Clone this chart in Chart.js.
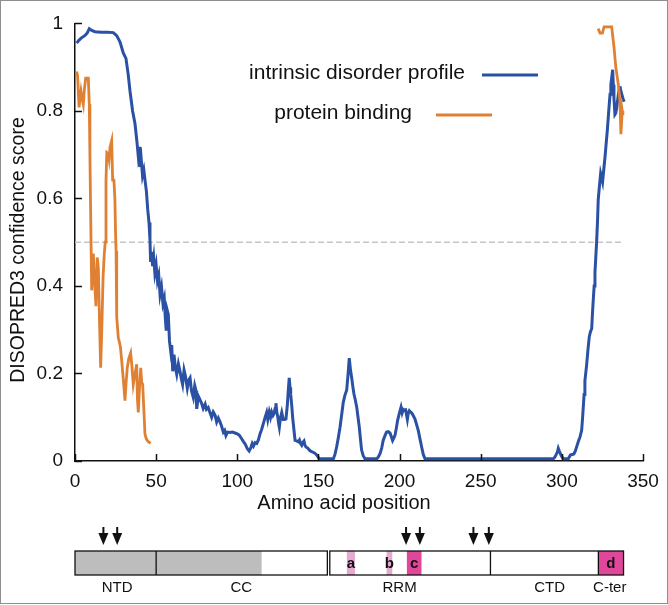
<!doctype html>
<html>
<head>
<title>DISOPRED3 profile</title>
<script src="https://cdn.jsdelivr.net/npm/chart.js"></script>
<style>
    body {
        margin: 0;
        background: #fff;
    }
    canvas {
        display: block;
    }
</style>
</head>
<body>
<canvas id="chart" width="668" height="605"></canvas>
<script>
// disorder profile (residue, score)
const disorderPos = [1, 2.5, 4, 6, 7.5, 8.8, 10.3, 12.3, 16, 20, 23.6, 25.7, 27.7, 29.8, 31.4, 32.8, 33.9, 35.5, 37, 38.2,
    38.9, 39.5, 40, 40.8, 41.6, 42.4, 43.2, 44, 44.8, 45.6, 46.2, 46.6, 47.2, 47.8, 48.5, 49.2, 50, 50.8, 51.6, 52.4,
    53.3, 54.2, 55, 55.6, 56.2, 56.8, 57.5, 58.2, 59, 59.6, 60.2, 61, 61.8, 62.7, 63.7, 64.7, 65.5, 66.3, 67.2, 68,
    69.2, 70.1, 70.9, 71.8, 72.9, 73.8, 74.6, 75, 76, 77, 78, 79, 80.2, 81, 82.1, 83.2, 84.2, 85.2, 86.3, 87.3,
    88.3, 89.3, 90.3, 91.4, 92.2, 93, 94, 95.5, 97, 98.6, 100, 101.2, 102.5, 103.7, 105, 106.2, 107.3, 108.3, 109.2, 110,
    111, 112, 113, 114, 115, 116, 117, 118.1, 118.8, 119.7, 120.5, 121.2, 122, 122.6, 123.3, 123.8, 124.4, 124.9, 125.5, 125.9,
    126.6, 127.4, 128.3, 129.2, 130, 130.8, 131.5, 132, 132.5, 132.9, 133.6, 134.1, 135, 135.6, 136.6, 137.6, 138.3, 139, 139.7, 140.4,
    141.1, 141.7, 142.3, 143.3, 144.4, 145.5, 146.7, 147.8, 148.9, 150, 150.5, 155, 159.2, 160.2, 161.2, 162.2, 163.3, 164.3, 165.3, 166.3,
    167.4, 168.2, 169, 169.7, 170.5, 171.2, 171.9, 172.7, 173.6, 174.4, 175.2, 175.9, 176.6, 177.6, 178.7, 186, 187, 188, 189, 189.9,
    191, 192, 193, 194.1, 195, 195.7, 196.5, 197.2, 198, 198.8, 199.8, 200.9, 201.6, 202.3, 203, 203.7, 204.3, 204.8, 205.4, 206,
    206.7, 207.4, 208.4, 209.5, 210.5, 211.5, 212.6, 213.6, 214.6, 215.7, 294.7, 295.5, 296.4, 297.2, 297.8, 298.5, 299.2, 300, 300.9, 304,
    304.7, 305.4, 306.4, 307.4, 308.2, 309.1, 310.2, 311.2, 312.2, 312.7, 313.2, 313.7, 314.2, 315.3, 316.1, 316.9, 317.6, 318.4, 318.9, 319.4,
    319.9, 320.4, 320.9, 321.4, 322, 322.4, 323.2, 323.9, 324.5, 325.1, 325.8, 326.6, 327.3, 328, 328.6, 329.2, 329.7, 330.2, 330.8, 331.3,
    331.7, 332.1, 332.7, 333.2, 333.8, 334.3, 334.8, 335.3, 335.8, 336.4, 337, 337.7, 338.4];
const disorderScore = [0.955, 0.962, 0.967, 0.972, 0.978, 0.988, 0.984, 0.981, 0.98, 0.98, 0.979, 0.972, 0.958, 0.932, 0.92, 0.883, 0.845, 0.8, 0.77, 0.728,
    0.7, 0.718, 0.672, 0.69, 0.652, 0.665, 0.64, 0.616, 0.575, 0.545, 0.505, 0.455, 0.478, 0.445, 0.465, 0.43, 0.448, 0.412, 0.425, 0.38,
    0.398, 0.36, 0.372, 0.33, 0.298, 0.345, 0.335, 0.275, 0.25, 0.265, 0.205, 0.243, 0.215, 0.198, 0.222, 0.205, 0.188, 0.175, 0.208, 0.195,
    0.166, 0.185, 0.19, 0.16, 0.145, 0.172, 0.16, 0.119, 0.148, 0.14, 0.132, 0.12, 0.13, 0.118, 0.122, 0.11, 0.1, 0.112, 0.105, 0.089,
    0.098, 0.09, 0.08, 0.066, 0.07, 0.058, 0.066, 0.065, 0.066, 0.064, 0.062, 0.059, 0.052, 0.045, 0.038, 0.028, 0.023, 0.03, 0.04, 0.034,
    0.042, 0.04, 0.048, 0.062, 0.072, 0.085, 0.098, 0.111, 0.095, 0.112, 0.1, 0.112, 0.104, 0.108, 0.12, 0.132, 0.11, 0.102, 0.085, 0.077,
    0.098, 0.111, 0.095, 0.095, 0.096, 0.126, 0.165, 0.19, 0.168, 0.153, 0.125, 0.1, 0.068, 0.047, 0.046, 0.044, 0.048, 0.04, 0.036, 0.043,
    0.046, 0.036, 0.032, 0.03, 0.025, 0.022, 0.02, 0.018, 0.014, 0.008, 0.005, 0.005, 0.005, 0.015, 0.032, 0.052, 0.077, 0.105, 0.134, 0.15,
    0.162, 0.195, 0.235, 0.21, 0.19, 0.17, 0.153, 0.14, 0.123, 0.1, 0.077, 0.05, 0.025, 0.012, 0.005, 0.005, 0.01, 0.017, 0.03, 0.047,
    0.058, 0.066, 0.067, 0.064, 0.055, 0.047, 0.053, 0.059, 0.075, 0.093, 0.108, 0.123, 0.11, 0.118, 0.116, 0.117, 0.105, 0.095, 0.11, 0.115,
    0.112, 0.11, 0.104, 0.096, 0.083, 0.07, 0.05, 0.032, 0.015, 0.005, 0.005, 0.008, 0.014, 0.02, 0.029, 0.022, 0.016, 0.01, 0.005, 0.005,
    0.01, 0.014, 0.015, 0.016, 0.022, 0.032, 0.045, 0.055, 0.07, 0.095, 0.123, 0.152, 0.183, 0.221, 0.255, 0.284, 0.295, 0.303, 0.34, 0.371,
    0.4, 0.431, 0.465, 0.499, 0.55, 0.597, 0.63, 0.657, 0.648, 0.638, 0.665, 0.695, 0.725, 0.755, 0.785, 0.815, 0.838, 0.86, 0.878, 0.894,
    0.86, 0.83, 0.792, 0.795, 0.807, 0.822, 0.837, 0.848, 0.856, 0.845, 0.837, 0.828, 0.821];

// protein binding (residue, score)
const bindingPos = [1, 1.6, 2.5, 3.2, 3.7, 4.4, 5.1, 5.8, 6.6, 7.4, 8.2, 8.8, 9.2, 9.6, 10, 10.3, 10.8, 11.3, 12.1, 12.9,
    13.7, 14.4, 15.1, 15.8, 16.5, 17.3, 18, 18.6, 19.1, 19.6, 20.5, 21, 21.6, 22.6, 23.2, 24, 24.6, 25, 25.3, 25.7,
    26.7, 27.3, 28, 28.8, 29.8, 30.8, 31.5, 32.2, 33.2, 34.3, 35.1, 35.9, 37, 38, 38.5, 39, 39.8, 40.5, 41.1, 41.7,
    42.4, 43.1, 43.8, 44.5, 45.5, 46.6,
    null,
    322.4, 323.5, 325, 326, 328, 330.7, 332.1, 333.3, 334.8, 335.8, 336.4, 337.2, 337.6];
const bindingScore = [0.89, 0.88, 0.808, 0.83, 0.845, 0.828, 0.815, 0.85, 0.875, 0.875, 0.875, 0.815, 0.7, 0.58, 0.47, 0.39, 0.44, 0.474, 0.41, 0.354,
    0.465, 0.44, 0.32, 0.213, 0.3, 0.42, 0.47, 0.5, 0.64, 0.705, 0.702, 0.69, 0.717, 0.732, 0.642, 0.642, 0.597, 0.52, 0.48, 0.33,
    0.281, 0.273, 0.26, 0.228, 0.185, 0.138, 0.18, 0.213, 0.235, 0.247, 0.215, 0.175, 0.2, 0.221, 0.14, 0.111, 0.17, 0.213, 0.18, 0.175,
    0.12, 0.062, 0.052, 0.047, 0.043, 0.04,
    null,
    0.988, 0.978, 0.978, 0.992, 0.992, 0.992, 0.947, 0.898, 0.86, 0.822, 0.747, 0.8, 0.79];

const cutoffPos = [0, 338];
const cutoffScore = [0.5, 0.5];

const xTicks = [0, 50, 100, 150, 200, 250, 300, 350];
const yTicks = [0, 0.2, 0.4, 0.6, 0.8, 1];

// domain map below the plot
const boxStart = [0, 157];
const boxEnd = [155.5, 338];
const shadeStart = [0];
const shadeEnd = [115];
const dividers = [50, 256];
const motifNames = ['a', 'b', 'c', 'd'];
const motifStart = [167.5, 192, 204.5, 322.5];
const motifEnd = [172.5, 195.5, 213.5, 338];
const motifStrong = [false, false, true, true];
const arrowPos = [17.5, 26, 204, 212.5, 245.5, 255];
const domainNames = ['NTD', 'CC', 'RRM', 'CTD', 'C-ter'];
const domainMid = [26, 102.5, 200, 292.5, 329.5];

const FONT = '"Liberation Sans", Arial, sans-serif';
const BLUE = '#2a51a3';
const ORANGE = '#e08033';

function pts(xs, ys) {
    return xs.map((x, i) => ({ x: x, y: ys[i] }));
}

const extras = {
    id: 'extras',
    afterDraw(chart) {
        const ctx = chart.ctx;
        const xs = chart.scales.x, ys = chart.scales.y;
        const a = chart.chartArea;
        ctx.save();

        // inward ticks
        ctx.strokeStyle = '#111';
        ctx.lineWidth = 1.5;
        ctx.beginPath();
        xTicks.forEach(v => {
            const px = Math.round(xs.getPixelForValue(v)) + 0.5;
            ctx.moveTo(px, a.bottom);
            ctx.lineTo(px, a.bottom - 7);
        });
        yTicks.forEach(v => {
            const py = Math.round(ys.getPixelForValue(v)) + 0.5;
            ctx.moveTo(a.left, py);
            ctx.lineTo(a.left + 7, py);
        });
        ctx.stroke();

        // axis titles
        ctx.fillStyle = '#111';
        ctx.font = '20px ' + FONT;
        ctx.textAlign = 'center';
        ctx.textBaseline = 'middle';
        ctx.fillText('Amino acid position', 344, 503);
        ctx.save();
        ctx.translate(19, 250);
        ctx.rotate(-Math.PI / 2);
        ctx.font = '19.5px ' + FONT;
        ctx.fillText('DISOPRED3 confidence score', 0, 0);
        ctx.restore();

        // legend
        ctx.font = '21px ' + FONT;
        ctx.textAlign = 'right';
        ctx.fillText('intrinsic disorder profile', 465, 73);
        ctx.fillText('protein binding', 412, 113);
        ctx.lineWidth = 3;
        ctx.strokeStyle = BLUE;
        ctx.beginPath();
        ctx.moveTo(482, 75);
        ctx.lineTo(538, 75);
        ctx.stroke();
        ctx.strokeStyle = ORANGE;
        ctx.beginPath();
        ctx.moveTo(436, 115);
        ctx.lineTo(492, 115);
        ctx.stroke();

        // domain map
        const top = 551, h = 24;
        const X = v => xs.getPixelForValue(v);
        ctx.fillStyle = '#bdbdbd';
        shadeStart.forEach((s, i) => ctx.fillRect(X(s), top, X(shadeEnd[i]) - X(s), h));
        motifNames.forEach((m, i) => {
            ctx.fillStyle = motifStrong[i] ? '#e0469a' : '#e6a9cf';
            ctx.fillRect(X(motifStart[i]), top, X(motifEnd[i]) - X(motifStart[i]), h);
        });
        ctx.strokeStyle = '#111';
        ctx.lineWidth = 1.3;
        boxStart.forEach((s, i) => ctx.strokeRect(X(s), top, X(boxEnd[i]) - X(s), h));
        ctx.beginPath();
        dividers.concat([motifStart[3]]).forEach(v => {
            ctx.moveTo(X(v), top);
            ctx.lineTo(X(v), top + h);
        });
        ctx.stroke();
        ctx.fillStyle = '#111';
        ctx.font = 'bold 15px ' + FONT;
        ctx.textAlign = 'center';
        motifNames.forEach((m, i) => {
            ctx.fillText(m, (X(motifStart[i]) + X(motifEnd[i])) / 2, top + h / 2 + 1);
        });
        ctx.font = '15px ' + FONT;
        domainNames.forEach((d, i) => ctx.fillText(d, X(domainMid[i]), 588));

        // arrows
        arrowPos.forEach(v => {
            const px = X(v);
            ctx.fillRect(px - 1, 527, 2, 7);
            ctx.beginPath();
            ctx.moveTo(px - 5, 533);
            ctx.lineTo(px + 5, 533);
            ctx.lineTo(px, 545);
            ctx.closePath();
            ctx.fill();
        });

        // frame of the figure
        ctx.strokeStyle = '#8e8e8e';
        ctx.lineWidth = 1;
        ctx.strokeRect(0.5, 0.5, 667, 603);
        ctx.restore();
    }
};

new Chart(document.getElementById('chart'), {
    type: 'line',
    data: {
        datasets: [
            {
                label: 'intrinsic disorder profile',
                data: pts(disorderPos, disorderScore),
                borderColor: BLUE,
                borderWidth: 3,
                pointRadius: 0,
                tension: 0,
                order: 2
            },
            {
                label: 'protein binding',
                data: pts(bindingPos, bindingScore),
                borderColor: ORANGE,
                borderWidth: 2.8,
                pointRadius: 0,
                tension: 0,
                spanGaps: false,
                order: 1
            },
            {
                label: 'cutoff',
                data: pts(cutoffPos, cutoffScore),
                borderColor: '#c6c6c6',
                borderWidth: 1.5,
                borderDash: [6, 3],
                pointRadius: 0,
                order: 3
            }
        ]
    },
    options: {
        responsive: false,
        animation: false,
        layout: { padding: { left: 0, right: 25, top: 18, bottom: 92 } },
        plugins: {
            legend: { display: false },
            tooltip: { enabled: false }
        },
        scales: {
            x: {
                type: 'linear',
                min: 0,
                max: 350,
                afterBuildTicks: s => { s.ticks = xTicks.map(v => ({ value: v })); },
                afterFit: s => { s.height = 52; },
                grid: { display: false, drawTicks: false },
                border: { color: '#111', width: 1.5 },
                ticks: { padding: 9, color: '#111', font: { family: FONT, size: 19 } }
            },
            y: {
                min: 0,
                max: 1,
                afterBuildTicks: s => { s.ticks = yTicks.map(v => ({ value: v })); },
                afterFit: s => { s.width = 75; },
                grid: { display: false, drawTicks: false },
                border: { color: '#111', width: 1.5 },
                ticks: { padding: 12, color: '#111', font: { family: FONT, size: 19 }, callback: v => String(v) }
            }
        }
    },
    plugins: [extras]
});
</script>
</body>
</html>
